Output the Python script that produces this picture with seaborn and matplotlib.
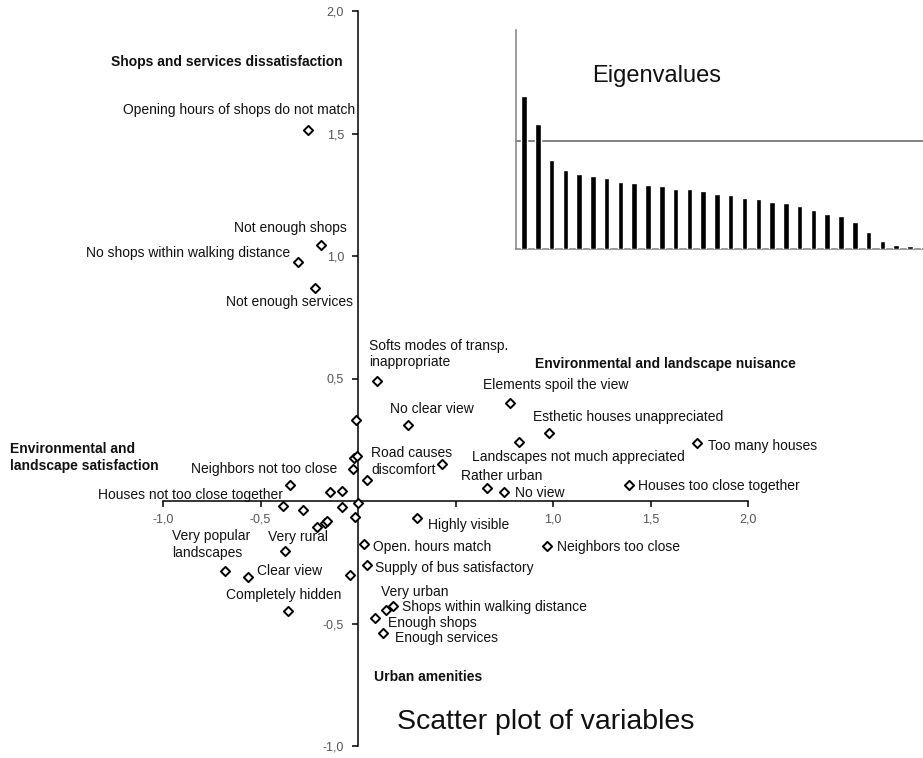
import matplotlib
matplotlib.use("Agg")
import matplotlib.pyplot as plt
import seaborn as sns
import pandas as pd

# ---------------- data ----------------
# factor coordinates of the variables (dim 1, dim 2)
var_x = [-0.256, -0.19, -0.31, -0.22, 0.097, 0.78, 0.98, 0.826, 1.74, 1.39,
         0.43, 0.256, 0.66, 0.75, 0.30, 0.97, 0.03, 0.046, -0.04, 0.144,
         0.18, 0.087, 0.128, -0.36, -0.68, -0.564, -0.374, -0.21, -0.17, -0.16,
         -0.28, -0.385, -0.08, -0.015, 0.0, -0.144, -0.082, -0.35, 0.046, -0.026,
         -0.02, -0.005, -0.01]
var_y = [1.516, 1.045, 0.976, 0.87, 0.49, 0.40, 0.276, 0.24, 0.236, 0.065,
         0.15, 0.31, 0.053, 0.037, -0.07, -0.183, -0.175, -0.26, -0.30, -0.443,
         -0.427, -0.476, -0.537, -0.447, -0.285, -0.309, -0.203, -0.106, -0.089, -0.081,
         -0.037, -0.02, -0.024, -0.065, -0.008, 0.037, 0.04, 0.065, 0.085, 0.13,
         0.175, 0.183, 0.33]

# variable labels and where they are written (data coords, alignment)
label_text = ["Opening hours of shops do not match", "Not enough shops",
              "No shops within walking distance", "Not enough services",
              "Softs modes of transp.\ninappropriate", "Elements spoil the view",
              "Esthetic houses unappreciated", "Landscapes not much appreciated",
              "Too many houses", "Houses too close together", "Road causes\ndiscomfort",
              "No clear view", "Rather urban", "No view", "Highly visible",
              "Neighbors too close", "Open. hours match", "Supply of bus satisfactory",
              "Very urban", "Shops within walking distance", "Enough shops",
              "Enough services", "Neighbors not too close",
              "Houses not too close together", "Very popular\nlandscapes",
              "Very rural", "Clear view", "Completely hidden"]
label_x = [-0.015, -0.056, -0.349, -0.027, 0.056, 0.64, 0.897, 0.585, 1.794, 1.436,
           0.067, 0.164, 0.528, 0.805, 0.359, 1.02, 0.077, 0.087, 0.118, 0.226,
           0.154, 0.19, -0.108, -0.385, -0.954, -0.462, -0.518, -0.677]
label_y = [1.596, 1.114, 1.012, 0.813, 0.60, 0.473, 0.343, 0.18, 0.224, 0.061,
           0.161, 0.376, 0.102, 0.033, -0.098, -0.188, -0.188, -0.273, -0.371, -0.433,
           -0.498, -0.559, 0.131, 0.024, -0.178, -0.147, -0.286, -0.384]
label_ha = ["right", "right", "right", "right", "left", "left", "left", "left",
            "left", "left", "left", "left", "left", "left", "left", "left", "left",
            "left", "left", "left", "left", "left", "right", "right", "left", "left",
            "left", "left"]

# factor names
group_text = ["Shops and services dissatisfaction", "Environmental and landscape nuisance",
              "Environmental and\nlandscape satisfaction", "Urban amenities"]
group_x = [-0.077, 0.908, -1.785, 0.082]
group_y = [1.792, 0.559, 0.178, -0.718]
group_ha = ["right", "left", "left", "left"]

# eigenvalues (relative, reference line = 1)
eig_values = [1.41, 1.15, 0.82, 0.73, 0.69, 0.675, 0.656, 0.62, 0.61, 0.59,
              0.58, 0.555, 0.555, 0.534, 0.506, 0.494, 0.472, 0.463, 0.433, 0.426,
              0.393, 0.356, 0.319, 0.307, 0.252, 0.153, 0.077, 0.034, 0.025, 0.018]
eig_rank = list(range(1, len(eig_values) + 1))
eig_ref = 1.0

x_ticks = [-1.0, -0.5, 0.5, 1.0, 1.5, 2.0]
x_tick_labels = ["-1,0", "-0,5", "", "1,0", "1,5", "2,0"]
y_ticks = [-1.0, -0.5, 0.5, 1.0, 1.5, 2.0]
y_tick_labels = ["-1,0", "-0,5", "0,5", "1,0", "1,5", "2,0"]

# ---------------- plot ----------------
sns.set_style("white")
plt.rcParams["font.family"] = ["Liberation Sans", "DejaVu Sans"]

W, H = 923, 758
fig = plt.figure(figsize=(W / 100, H / 100), dpi=100)
ax = fig.add_axes([163 / W, (H - 746) / H, 585 / W, 735 / H])
ax.set_facecolor("none")

df = pd.DataFrame({"x": var_x, "y": var_y})
sns.scatterplot(data=df, x="x", y="y", ax=ax, marker="D", s=22,
                color="white", edgecolor="black", linewidth=1.4, zorder=5)

ax.set_xlim(-1, 2)
ax.set_ylim(-1, 2)
for side in ["top", "right"]:
    ax.spines[side].set_visible(False)
ax.spines["left"].set_position(("data", 0))
ax.spines["bottom"].set_position(("data", 0))
for side in ["left", "bottom"]:
    ax.spines[side].set_color("black")
    ax.spines[side].set_linewidth(1.1)
ax.set_xticks(x_ticks)
ax.set_xticklabels(x_tick_labels)
ax.set_yticks(y_ticks)
ax.set_yticklabels(y_tick_labels)
ax.tick_params(axis="both", direction="out", length=4, width=1.1, color="black",
               labelsize=9, labelcolor="#555555")
ax.tick_params(axis="x", pad=5, bottom=True)
ax.tick_params(axis="y", pad=6, left=True)
ax.set_xlabel("")
ax.set_ylabel("")

for t, x, y, ha in zip(label_text, label_x, label_y, label_ha):
    ax.text(x, y, t, ha=ha, va="center", fontsize=10, color="#111111",
            linespacing=1.25)
for t, x, y, ha in zip(group_text, group_x, group_y, group_ha):
    ax.text(x, y, t, ha=ha, va="center", fontsize=10, fontweight="bold",
            color="#111111", linespacing=1.3)

ax.text(0.2, -0.902, "Scatter plot of variables", ha="left", va="center",
        fontsize=20.5, color="#111111")

# inset: eigenvalues
axi = fig.add_axes([515.7 / W, (H - 249) / H, (W - 515.7) / W, 219 / H])
axi.set_facecolor("none")
edf = pd.DataFrame({"rank": eig_rank, "value": eig_values})
sns.barplot(data=edf, x="rank", y="value", ax=axi, color="black", saturation=1,
            width=0.4, zorder=3)
axi.axhline(eig_ref, color="#7a7a7a", linewidth=1.3, zorder=2)
axi.set_xlim(-0.6, 28.95)
axi.set_ylim(0, 2.02)
axi.set_xticks([])
axi.set_yticks([])
axi.set_xlabel("")
axi.set_ylabel("")
for side in ["top", "right"]:
    axi.spines[side].set_visible(False)
for side in ["left", "bottom"]:
    axi.spines[side].set_color("#8a8a8a")
    axi.spines[side].set_linewidth(1.2)
axi.text(0.188, 0.79, "Eigenvalues", transform=axi.transAxes, ha="left",
         va="center", fontsize=17, color="#111111")

fig.savefig("out.png", dpi=100)
